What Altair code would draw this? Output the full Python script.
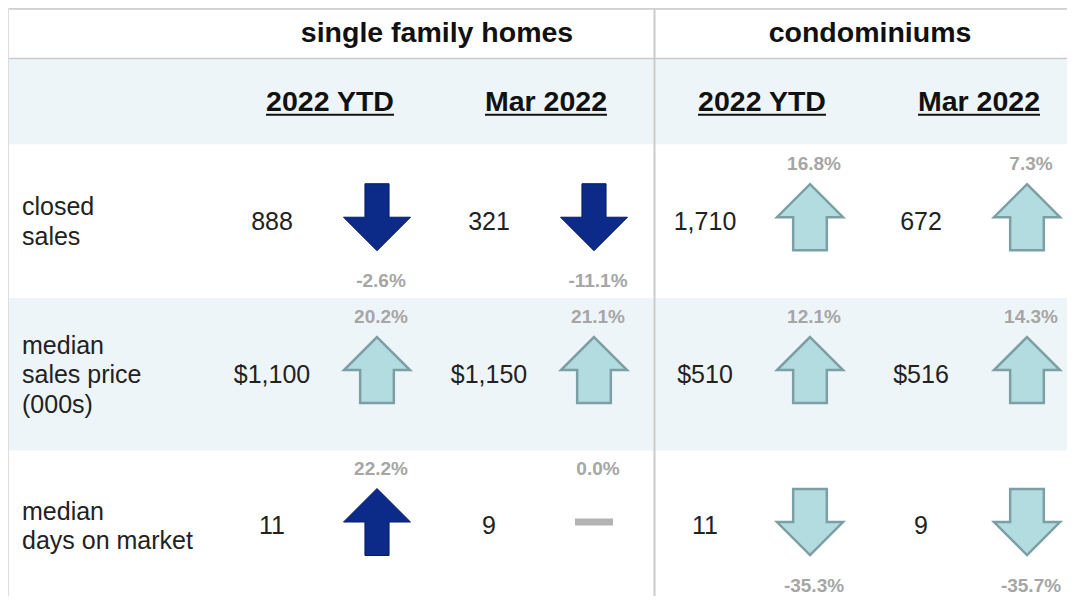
import altair as alt
import pandas as pd

# ---------------- data ----------------
row_labels = ["closed\nsales", "median\nsales price\n(000s)", "median\ndays on market"]
row_polarity = [1, 1, -1]          # +1: rise is favourable, -1: fall is favourable
groups = ["single family homes", "condominiums"]
periods = ["2022 YTD", "Mar 2022"]

sfh_ytd_values = ["888", "$1,100", "11"]
sfh_ytd_change = [-2.6, 20.2, 22.2]
sfh_mar_values = ["321", "$1,150", "9"]
sfh_mar_change = [-11.1, 21.1, 0.0]
condo_ytd_values = ["1,710", "$510", "11"]
condo_ytd_change = [16.8, 12.1, -35.3]
condo_mar_values = ["672", "$516", "9"]
condo_mar_change = [7.3, 14.3, -35.7]

columns = [
    (sfh_ytd_values, sfh_ytd_change),
    (sfh_mar_values, sfh_mar_change),
    (condo_ytd_values, condo_ytd_change),
    (condo_mar_values, condo_mar_change),
]

# ---------------- layout ----------------
W, H, M = 1075, 610, 8
PLOT_W, PLOT_H = 1059, 588
Y_MAX = 608
ROW_Y = [226, 382, 537]
LINE_H = 29.5
ARROW_DY = -4.5
PCT_UP_DY = -54
PCT_DOWN_DY = 65
COL_VALUE_X = [272, 489, 705, 921]
COL_ARROW_X = [377, 594, 810, 1027]
PCT_DX = 4
LABEL_X = 22
GROUP_X = [437, 870]
GROUP_Y = 33
PERIOD_X = [330, 546, 762, 979]
PERIOD_Y = 104
UNDERLINE_Y = 117
UNDERLINE_W = {"2022 YTD": 128, "Mar 2022": 122}
LEFT = 9
TOP_LINE_Y = 9
HEAD_LINE_Y = 59.5
HEAD_BAND = (60, 147)
DIVIDER_X = 654.5

FONT = "Liberation Sans"
BAND = "#eef5f8"
LINE = "#cbcbcb"
DARK_FILL, DARK_STROKE = "#0c2b89", "#071d60"
LIGHT_FILL, LIGHT_STROKE = "#b3dce1", "#7c9fa3"
PCT_COLOR = "#a6a6a6"

xs = alt.Scale(domain=[M, M + PLOT_W], range=[0, PLOT_W], nice=False, zero=False)
ys = alt.Scale(domain=[M, Y_MAX], range=[0, PLOT_H], nice=False, zero=False)
X = lambda f: alt.X(f"{f}:Q", scale=xs, axis=None)
X2 = lambda f: alt.X2(f"{f}:Q")
Y = lambda f: alt.Y(f"{f}:Q", scale=ys, axis=None)
Y2 = lambda f: alt.Y2(f"{f}:Q")

# ---------------- tables ----------------
cells = []
for j, (vals, chg) in enumerate(columns):
    for i in range(len(row_labels)):
        c = chg[i]
        direction = "up" if c > 0 else ("down" if c < 0 else "flat")
        tone = "light" if c * row_polarity[i] > 0 else "dark"
        ay = ROW_Y[i] + ARROW_DY
        cells.append(dict(
            value=vals[i], pct=f"{c:.1f}%", direction=direction, tone=tone,
            vx=COL_VALUE_X[j], vy=ROW_Y[i],
            ax=COL_ARROW_X[j], ay=ay,
            px=COL_ARROW_X[j] + PCT_DX,
            py=ay + (PCT_DOWN_DY if c < 0 else PCT_UP_DY),
        ))
cells = pd.DataFrame(cells)

labels = pd.DataFrame(dict(
    text=row_labels, x=[LABEL_X] * 3,
    y=[y - (t.count("\n")) * LINE_H / 2 for y, t in zip(ROW_Y, row_labels)],
))

bands = pd.DataFrame([
    dict(x=LEFT, x2=W, y=HEAD_BAND[0], y2=HEAD_BAND[1]),
    dict(x=LEFT, x2=W, y=(ROW_Y[0] + ROW_Y[1]) / 2, y2=(ROW_Y[1] + ROW_Y[2]) / 2),
])
hlines = pd.DataFrame([
    dict(x=LEFT, x2=W, y=TOP_LINE_Y),
    dict(x=LEFT, x2=W, y=HEAD_LINE_Y),
])
vline = pd.DataFrame([dict(x=DIVIDER_X, y=TOP_LINE_Y, y2=H)])

group_df = pd.DataFrame(dict(text=groups, x=GROUP_X, y=[GROUP_Y] * 2))
period_texts = periods * 2
period_df = pd.DataFrame(dict(
    text=period_texts, x=PERIOD_X, y=[PERIOD_Y] * 4,
    x1=[x - UNDERLINE_W[t] / 2 for x, t in zip(PERIOD_X, period_texts)],
    x2=[x + UNDERLINE_W[t] / 2 for x, t in zip(PERIOD_X, period_texts)],
    uy=[UNDERLINE_Y] * 4,
))

def arrow_path(direction, half):
    if direction == "up":
        return f"M0,-1 L1,0 L{half},0 L{half},1 L-{half},1 L-{half},0 L-1,0 Z"
    return f"M0,1 L1,0 L{half},0 L{half},-1 L-{half},-1 L-{half},0 L-1,0 Z"

# ---------------- layers ----------------
layers = []
layers.append(alt.Chart(bands).mark_rect(color=BAND).encode(
    x=X("x"), x2=X2("x2"), y=Y("y"), y2=Y2("y2")))
layers.append(alt.Chart(hlines).mark_rule(color=LINE, strokeWidth=1.5).encode(
    x=X("x"), x2=X2("x2"), y=Y("y")))
layers.append(alt.Chart(vline).mark_rule(color=LINE, strokeWidth=2).encode(
    x=X("x"), y=Y("y"), y2=Y2("y2")))

layers.append(alt.Chart(group_df).mark_text(
    font=FONT, fontSize=28.5, fontWeight="bold", color="#111", baseline="middle", align="center"
).encode(x=X("x"), y=Y("y"), text="text:N"))
layers.append(alt.Chart(period_df).mark_text(
    font=FONT, fontSize=28.5, fontWeight="bold", color="#111", baseline="middle", align="center"
).encode(x=X("x"), y=Y("y"), text="text:N"))
layers.append(alt.Chart(period_df).mark_rule(color="#111", strokeWidth=2).encode(
    x=X("x1"), x2=X2("x2"), y=Y("uy")))

layers.append(alt.Chart(labels).mark_text(
    font=FONT, fontSize=25, color="#222", baseline="middle", align="left", lineBreak="\n",
    lineHeight=LINE_H
).encode(x=X("x"), y=Y("y"), text="text:N"))

layers.append(alt.Chart(cells).mark_text(
    font=FONT, fontSize=25, color="#222", baseline="middle", align="center"
).encode(x=X("vx"), y=Y("vy"), text="value:N"))

for tone, half, size, fill, stroke, sw in [
    ("dark", 0.36, 67 ** 2, DARK_FILL, DARK_STROKE, 1),
    ("light", 0.51, 66 ** 2, LIGHT_FILL, LIGHT_STROKE, 2.5),
]:
    for direction in ["up", "down"]:
        layers.append(alt.Chart(cells).transform_filter(
            (alt.datum.tone == tone) & (alt.datum.direction == direction)
        ).mark_point(
            shape=arrow_path(direction, half), size=size, filled=True,
            fill=fill, stroke=stroke, strokeWidth=sw, opacity=1, strokeJoin="miter"
        ).encode(x=X("ax"), y=Y("ay")))

layers.append(alt.Chart(cells).transform_filter(alt.datum.direction == "flat").mark_point(
    shape="M-1,-0.18 L1,-0.18 L1,0.18 L-1,0.18 Z", size=38 ** 2, filled=True,
    fill="#b4b4b4", strokeWidth=0, opacity=1
).encode(x=X("ax"), y=Y("ay")))

layers.append(alt.Chart(cells).mark_text(
    font=FONT, fontSize=19, fontWeight="bold", color=PCT_COLOR, baseline="middle", align="center"
).encode(x=X("px"), y=Y("py"), text="pct:N"))

chart = alt.layer(*layers).properties(
    width=PLOT_W, height=PLOT_H, padding=0, autosize=alt.AutoSizeParams(type="none")
).configure_view(strokeWidth=0, strokeOpacity=0).configure(background="white")

chart.save("out.html", embed_options={"renderer": "svg", "actions": False})
